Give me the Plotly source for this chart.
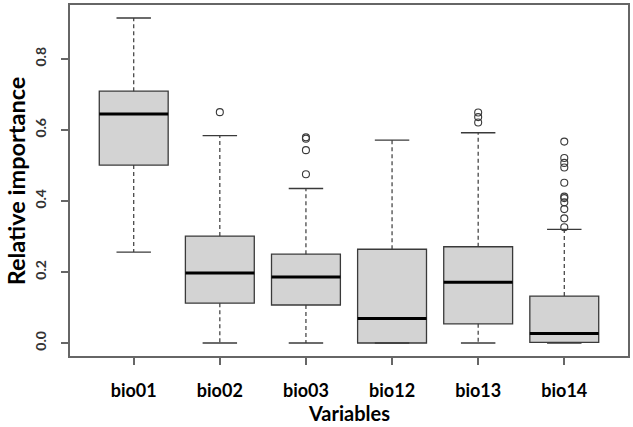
import plotly.graph_objects as go

categories = ["bio01", "bio02", "bio03", "bio12", "bio13", "bio14"]
lower_whisker = [0.256, 0.0, 0.0, 0.0, 0.0, 0.0]
q1 = [0.501, 0.112, 0.107, 0.0, 0.054, 0.002]
median = [0.645, 0.197, 0.186, 0.069, 0.171, 0.027]
q3 = [0.709, 0.301, 0.250, 0.264, 0.271, 0.132]
upper_whisker = [0.915, 0.584, 0.435, 0.571, 0.592, 0.320]
outliers = [
    [],
    [0.650],
    [0.579, 0.575, 0.543, 0.475],
    [],
    [0.649, 0.636, 0.621],
    [0.567, 0.521, 0.507, 0.494, 0.451, 0.412, 0.408, 0.396, 0.377, 0.351, 0.326],
]
y_ticks = [0.0, 0.2, 0.4, 0.6, 0.8]

positions = list(range(1, len(categories) + 1))
box_half = 0.4
cap_half = 0.2

fig = go.Figure()

# boxes
fig.add_trace(go.Box(
    x=positions, q1=q1, median=median, q3=q3,
    lowerfence=q1, upperfence=q3,
    width=2 * box_half, whiskerwidth=0,
    fillcolor="#d3d3d3", line=dict(color="#3a3a3a", width=1.3),
    boxpoints=False, hoverinfo="skip", showlegend=False,
))

# dashed whiskers, caps, medians
wx, wy, cx, cy, mx, my = [], [], [], [], [], []
for p, lo, a, m, b, hi in zip(positions, lower_whisker, q1, median, q3, upper_whisker):
    wx += [p, p, None, p, p, None]
    wy += [b, hi, None, a, lo, None]
    cx += [p - cap_half, p + cap_half, None, p - cap_half, p + cap_half, None]
    cy += [hi, hi, None, lo, lo, None]
    mx += [p - box_half, p + box_half, None]
    my += [m, m, None]

fig.add_trace(go.Scatter(x=wx, y=wy, mode="lines",
                         line=dict(color="#3a3a3a", width=1.2, dash="4px,3px"),
                         hoverinfo="skip", showlegend=False))
fig.add_trace(go.Scatter(x=cx, y=cy, mode="lines",
                         line=dict(color="#3a3a3a", width=1.3),
                         hoverinfo="skip", showlegend=False))
fig.add_trace(go.Scatter(x=mx, y=my, mode="lines",
                         line=dict(color="#000000", width=3),
                         hoverinfo="skip", showlegend=False))

ox, oy = [], []
for p, outs in zip(positions, outliers):
    ox += [p] * len(outs)
    oy += outs
fig.add_trace(go.Scatter(x=ox, y=oy, mode="markers",
                         marker=dict(symbol="circle-open", size=7,
                                     line=dict(color="#3a3a3a", width=1.1), color="#3a3a3a"),
                         hoverinfo="skip", showlegend=False))

font_family = "Lato, 'Open Sans', sans-serif"

fig.update_layout(
    width=633, height=427,
    margin=dict(l=70, r=5, t=5, b=71),
    paper_bgcolor="white", plot_bgcolor="white",
    font=dict(family=font_family, color="#000"),
    xaxis=dict(
        range=[0.26, 6.74], tickmode="array", tickvals=positions, ticktext=categories,
        showgrid=False, zeroline=False, showline=True, mirror=True,
        linecolor="#666", linewidth=1.5, automargin=False,
        ticks="outside", ticklen=7, tickcolor="#666", tickwidth=1.5,
        tickfont=dict(size=18, family=font_family, color="#000", weight="bold"),
        ticklabelstandoff=11,
    ),
    yaxis=dict(
        range=[-0.0366, 0.9516], tickmode="array", tickvals=y_ticks,
        ticktext=[f"{v:.1f}" for v in y_ticks],
        showgrid=False, zeroline=False, showline=True, mirror=True,
        linecolor="#666", linewidth=1.5, automargin=False,
        ticks="outside", ticklen=7, tickcolor="#666", tickwidth=1.5,
        tickangle=-90,
        tickfont=dict(size=14, family=font_family, color="#333", weight="bold"),
        ticklabelstandoff=10,
    ),
    annotations=[
        dict(text="<b>Variables</b>", xref="paper", yref="paper", x=0.5, y=-0.163,
             xanchor="center", yanchor="middle", showarrow=False,
             font=dict(size=20, family=font_family, color="#000")),
        dict(text="<b>Relative importance</b>", xref="paper", yref="paper", x=-0.097, y=0.5,
             xanchor="center", yanchor="middle", showarrow=False, textangle=-90,
             font=dict(size=23.5, family=font_family, color="#000")),
    ],
)

fig.write_html("out.html", config={"displayModeBar": False},
               post_script="document.body.style.margin='0';document.body.style.padding='0';")
